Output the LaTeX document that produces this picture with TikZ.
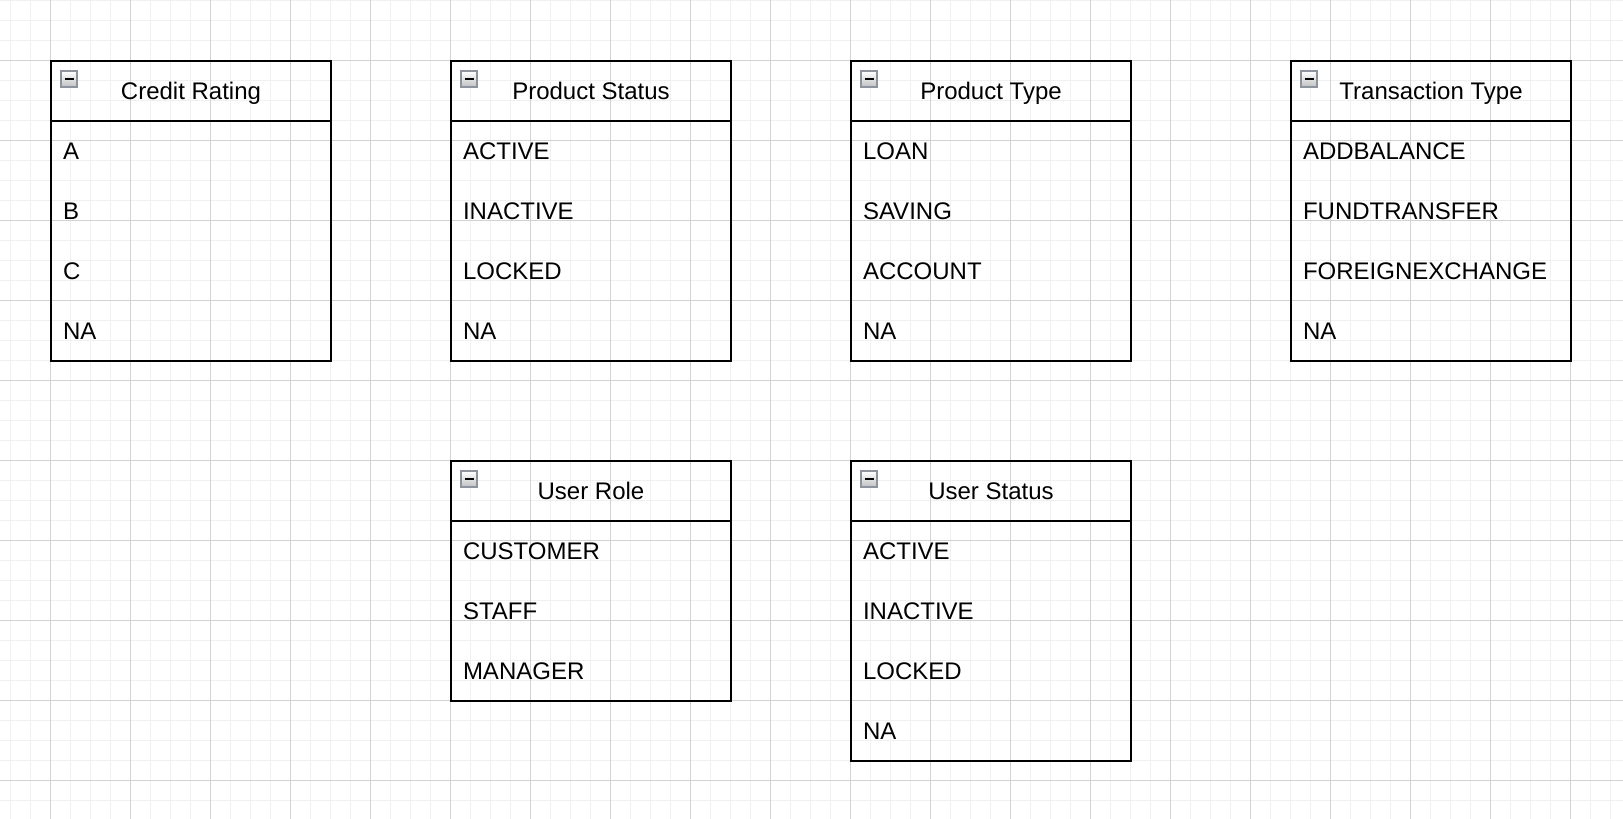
\documentclass[tikz,border=0pt]{standalone}
\usepackage{fontspec}
\setmainfont{Liberation Sans}
\usetikzlibrary{positioning}
\definecolor{gridminor}{HTML}{F0F0F0}
\definecolor{gridmajor}{HTML}{D2D2D2}
\definecolor{iconedge}{HTML}{8E949E}

\begin{document}
\begin{tikzpicture}[x=1pt,y=-1pt,
        font=\fontsize{24}{28}\selectfont,
        minor/.style={gridminor,line width=1pt},
        major/.style={gridmajor,line width=1pt},
        enumhead/.style={draw,line width=2pt,anchor=north west,minimum width=280pt,
          minimum height=60pt,inner sep=0pt,outer sep=0pt,text height=17pt,text depth=0pt},
        enumrow/.style={minimum width=280pt,minimum height=60pt,text width=256pt,align=left,
          inner xsep=12pt,inner ysep=0pt,outer sep=0pt,text height=17pt,text depth=0pt},
        enumframe/.style={draw,line width=2pt},
        collapse/.style={draw=iconedge,line width=2pt,top color=white,bottom color=black!24,
          minimum size=16pt,inner sep=0pt,
          path picture={\draw[black,line width=2.5pt]
            ([xshift=-4.5pt]path picture bounding box.center) --
            ([xshift=4.5pt]path picture bounding box.center);}}]

  \useasboundingbox (0,0) rectangle (1623,819);
  \fill[white] (0,0) rectangle (1623,819);

  % grid
  \foreach \x in {10,30,...,1610} \draw[minor] (\x,0) -- (\x,819);
  \foreach \y in {0,20,...,800} \draw[minor] (0,\y) -- (1623,\y);
  \foreach \x in {50,130,...,1570} \draw[major] (\x,0) -- (\x,819);
  \foreach \y in {60,140,...,780} \draw[major] (0,\y) -- (1623,\y);

  % Credit Rating
  \node[enumhead] (crHead) at (51,61) {Credit Rating};
  \node[collapse] (crIcon) at ([shift={(18,18)}]crHead.north west) {};
  \node[enumrow,below=0pt of crHead] (crA) {A};
  \node[enumrow,below=0pt of crA] (crB) {B};
  \node[enumrow,below=0pt of crB] (crC) {C};
  \node[enumrow,below=0pt of crC] (crNA) {NA};
  \draw[enumframe] (crHead.north west) rectangle (crNA.south east);

  % Product Status
  \node[enumhead] (psHead) at (451,61) {Product Status};
  \node[collapse] (psIcon) at ([shift={(18,18)}]psHead.north west) {};
  \node[enumrow,below=0pt of psHead] (psActive) {ACTIVE};
  \node[enumrow,below=0pt of psActive] (psInactive) {INACTIVE};
  \node[enumrow,below=0pt of psInactive] (psLocked) {LOCKED};
  \node[enumrow,below=0pt of psLocked] (psNA) {NA};
  \draw[enumframe] (psHead.north west) rectangle (psNA.south east);

  % Product Type
  \node[enumhead] (ptHead) at (851,61) {Product Type};
  \node[collapse] (ptIcon) at ([shift={(18,18)}]ptHead.north west) {};
  \node[enumrow,below=0pt of ptHead] (ptLoan) {LOAN};
  \node[enumrow,below=0pt of ptLoan] (ptSaving) {SAVING};
  \node[enumrow,below=0pt of ptSaving] (ptAccount) {ACCOUNT};
  \node[enumrow,below=0pt of ptAccount] (ptNA) {NA};
  \draw[enumframe] (ptHead.north west) rectangle (ptNA.south east);

  % Transaction Type
  \node[enumhead] (ttHead) at (1291,61) {Transaction Type};
  \node[collapse] (ttIcon) at ([shift={(18,18)}]ttHead.north west) {};
  \node[enumrow,below=0pt of ttHead] (ttAdd) {ADDBALANCE};
  \node[enumrow,below=0pt of ttAdd] (ttFund) {FUNDTRANSFER};
  \node[enumrow,below=0pt of ttFund] (ttForeign) {FOREIGNEXCHANGE};
  \node[enumrow,below=0pt of ttForeign] (ttNA) {NA};
  \draw[enumframe] (ttHead.north west) rectangle (ttNA.south east);

  % User Role
  \node[enumhead] (urHead) at (451,461) {User Role};
  \node[collapse] (urIcon) at ([shift={(18,18)}]urHead.north west) {};
  \node[enumrow,below=0pt of urHead] (urCustomer) {CUSTOMER};
  \node[enumrow,below=0pt of urCustomer] (urStaff) {STAFF};
  \node[enumrow,below=0pt of urStaff] (urManager) {MANAGER};
  \draw[enumframe] (urHead.north west) rectangle (urManager.south east);

  % User Status
  \node[enumhead] (usHead) at (851,461) {User Status};
  \node[collapse] (usIcon) at ([shift={(18,18)}]usHead.north west) {};
  \node[enumrow,below=0pt of usHead] (usActive) {ACTIVE};
  \node[enumrow,below=0pt of usActive] (usInactive) {INACTIVE};
  \node[enumrow,below=0pt of usInactive] (usLocked) {LOCKED};
  \node[enumrow,below=0pt of usLocked] (usNA) {NA};
  \draw[enumframe] (usHead.north west) rectangle (usNA.south east);

\end{tikzpicture}
\end{document}
